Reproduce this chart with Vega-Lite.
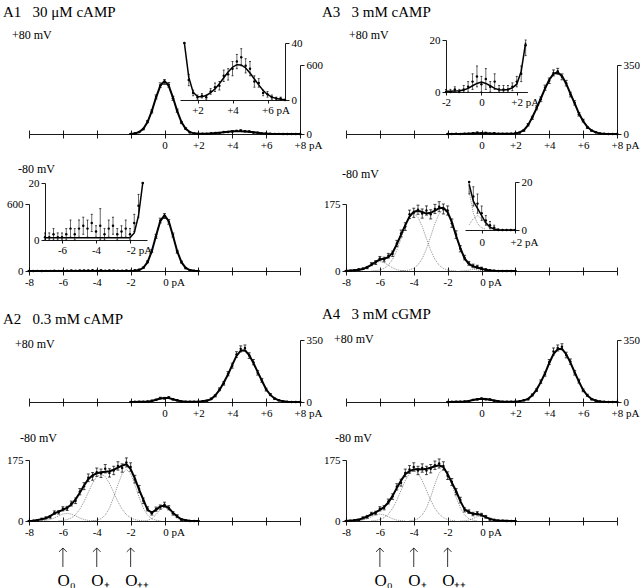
{
  "$schema": "https://vega.github.io/schema/vega-lite/v6.json",
  "padding": {"left": 3, "top": 5, "right": 4, "bottom": 4},
  "background": "white",
  "config": {
    "font": "Liberation Serif",
    "view": {"stroke": null},
    "axis": {
      "labelFont": "Liberation Serif", "labelFontSize": 11, "labelColor": "black",
      "domainColor": "black", "tickColor": "black", "domainWidth": 0.9, "tickWidth": 0.9,
      "grid": false, "labelFlush": false, "labelOverlap": false, "labelBound": false
    },
    "title": {
      "font": "Liberation Serif", "subtitleFont": "Liberation Serif", "fontWeight": "normal",
      "color": "black", "subtitleColor": "black", "anchor": "start", "frame": "group",
      "fontSize": 12, "subtitleFontSize": 12
    }
  },
  "datasets": {
    "a1t": [
      {"x": -2, "f": 1, "o": 1, "e": 1}, {"x": -1.75, "f": 5, "o": 6, "e": 2}, {"x": -1.5, "f": 16, "o": 18, "e": 4},
      {"x": -1.25, "f": 45, "o": 43, "e": 6}, {"x": -1, "f": 104, "o": 108, "e": 10}, {"x": -0.75, "f": 199, "o": 196, "e": 14},
      {"x": -0.5, "f": 317, "o": 322, "e": 18}, {"x": -0.25, "f": 419, "o": 425, "e": 20}, {"x": 0, "f": 460, "o": 452, "e": 21},
      {"x": 0.25, "f": 419, "o": 428, "e": 20}, {"x": 0.5, "f": 317, "o": 310, "e": 18}, {"x": 0.75, "f": 199, "o": 203, "e": 14},
      {"x": 1, "f": 104, "o": 100, "e": 10}, {"x": 1.25, "f": 45, "o": 47, "e": 7}, {"x": 1.5, "f": 16, "o": 14, "e": 4},
      {"x": 1.75, "f": 5.5, "o": 5, "e": 2}, {"x": 2, "f": 2.5, "o": 2, "e": 1.5}, {"x": 2.25, "f": 2.3, "o": 3, "e": 1.5},
      {"x": 2.5, "f": 3.2, "o": 2, "e": 1.5}, {"x": 2.75, "f": 5.1, "o": 6, "e": 2}, {"x": 3, "f": 7.8, "o": 9, "e": 3},
      {"x": 3.25, "f": 11.4, "o": 10, "e": 3}, {"x": 3.5, "f": 15.6, "o": 17, "e": 4}, {"x": 3.75, "f": 19.7, "o": 18, "e": 4},
      {"x": 4, "f": 23, "o": 22, "e": 5}, {"x": 4.25, "f": 24.8, "o": 27, "e": 5}, {"x": 4.5, "f": 24.6, "o": 30, "e": 6},
      {"x": 4.75, "f": 22.5, "o": 24, "e": 5}, {"x": 5, "f": 18.9, "o": 22, "e": 5}, {"x": 5.25, "f": 14.7, "o": 13, "e": 4},
      {"x": 5.5, "f": 10.6, "o": 12, "e": 3}, {"x": 5.75, "f": 6.7, "o": 5, "e": 2}, {"x": 6, "f": 3.9, "o": 4, "e": 2},
      {"x": 6.25, "f": 2, "o": 2, "e": 1.5}, {"x": 6.5, "f": 1, "o": 1, "e": 1}, {"x": 6.75, "f": 0.5, "o": 1, "e": 1},
      {"x": 7, "f": 0.2, "o": 0, "e": 0.5}, {"x": 7.25, "f": 0, "o": 0, "e": 0}, {"x": 7.5, "f": 0, "o": 0, "e": 0},
      {"x": 7.75, "f": 0, "o": 0, "e": 0}, {"x": 8, "f": 0, "o": 0, "e": 0}
    ],
    "a1b": [
      {"x": -8, "f": 0.8, "o": 0, "e": 1}, {"x": -7.75, "f": 0.8, "o": 0, "e": 1}, {"x": -7.5, "f": 0.8, "o": 1, "e": 1.5},
      {"x": -7.25, "f": 0.8, "o": 0, "e": 1}, {"x": -7, "f": 0.8, "o": 1, "e": 1.5}, {"x": -6.75, "f": 0.8, "o": 1, "e": 1.5},
      {"x": -6.5, "f": 0.8, "o": 2, "e": 2}, {"x": -6.25, "f": 0.8, "o": 1, "e": 1.5}, {"x": -6, "f": 0.8, "o": 1, "e": 1.5},
      {"x": -5.75, "f": 0.8, "o": 2, "e": 2}, {"x": -5.5, "f": 0.8, "o": 4, "e": 3}, {"x": -5.25, "f": 0.8, "o": 2, "e": 2},
      {"x": -5, "f": 0.8, "o": 4, "e": 3}, {"x": -4.75, "f": 0.8, "o": 5, "e": 3}, {"x": -4.5, "f": 0.8, "o": 4, "e": 3},
      {"x": -4.25, "f": 0.8, "o": 6, "e": 3}, {"x": -4, "f": 0.8, "o": 3, "e": 2}, {"x": -3.75, "f": 0.8, "o": 5, "e": 6},
      {"x": -3.5, "f": 0.8, "o": 2, "e": 2}, {"x": -3.25, "f": 0.8, "o": 4, "e": 3}, {"x": -3, "f": 0.8, "o": 5, "e": 3},
      {"x": -2.75, "f": 0.8, "o": 2, "e": 2}, {"x": -2.5, "f": 0.8, "o": 3, "e": 2}, {"x": -2.25, "f": 0.8, "o": 4, "e": 3},
      {"x": -2, "f": 0.8, "o": 2, "e": 2}, {"x": -1.75, "f": 2.5, "o": 6, "e": 3}, {"x": -1.5, "f": 8.5, "o": 12, "e": 4},
      {"x": -1.25, "f": 28.5, "o": 30, "e": 6}, {"x": -1, "f": 79, "o": 82, "e": 9}, {"x": -0.75, "f": 177, "o": 180, "e": 13},
      {"x": -0.5, "f": 315, "o": 310, "e": 18}, {"x": -0.25, "f": 446, "o": 452, "e": 21}, {"x": 0, "f": 500, "o": 492, "e": 22},
      {"x": 0.25, "f": 446, "o": 440, "e": 21}, {"x": 0.5, "f": 315, "o": 322, "e": 18}, {"x": 0.75, "f": 177, "o": 172, "e": 13},
      {"x": 1, "f": 79, "o": 80, "e": 9}, {"x": 1.25, "f": 28, "o": 26, "e": 6}, {"x": 1.5, "f": 8, "o": 8, "e": 3},
      {"x": 1.75, "f": 2, "o": 2, "e": 2}, {"x": 2, "f": 0.3, "o": 0, "e": 1}
    ],
    "a3t": [
      {"x": -2, "f": 0.3, "o": 0, "e": 1}, {"x": -1.75, "f": 0.3, "o": 0, "e": 1}, {"x": -1.5, "f": 0.4, "o": 1, "e": 1},
      {"x": -1.25, "f": 0.5, "o": 0, "e": 1}, {"x": -1, "f": 0.8, "o": 1, "e": 1.5}, {"x": -0.75, "f": 1.4, "o": 2, "e": 2},
      {"x": -0.5, "f": 2.4, "o": 4, "e": 3}, {"x": -0.25, "f": 3.3, "o": 6, "e": 4}, {"x": 0, "f": 3.8, "o": 3, "e": 3},
      {"x": 0.25, "f": 3.3, "o": 5, "e": 4}, {"x": 0.5, "f": 2.4, "o": 2, "e": 2}, {"x": 0.75, "f": 1.4, "o": 4, "e": 3},
      {"x": 1, "f": 0.9, "o": 1, "e": 1.5}, {"x": 1.25, "f": 0.8, "o": 1, "e": 1.5}, {"x": 1.5, "f": 1, "o": 1, "e": 1.5},
      {"x": 1.75, "f": 1.6, "o": 2, "e": 1.5}, {"x": 2, "f": 3, "o": 4, "e": 2}, {"x": 2.25, "f": 8, "o": 7, "e": 3},
      {"x": 2.5, "f": 19, "o": 18, "e": 4}, {"x": 2.75, "f": 45, "o": 47, "e": 6}, {"x": 3, "f": 85, "o": 82, "e": 8},
      {"x": 3.25, "f": 130, "o": 133, "e": 10}, {"x": 3.5, "f": 180, "o": 176, "e": 12}, {"x": 3.75, "f": 230, "o": 235, "e": 13},
      {"x": 4, "f": 275, "o": 270, "e": 14}, {"x": 4.25, "f": 305, "o": 310, "e": 15}, {"x": 4.5, "f": 312, "o": 318, "e": 15},
      {"x": 4.75, "f": 295, "o": 290, "e": 15}, {"x": 5, "f": 255, "o": 258, "e": 14}, {"x": 5.25, "f": 205, "o": 200, "e": 12},
      {"x": 5.5, "f": 155, "o": 158, "e": 11}, {"x": 5.75, "f": 105, "o": 100, "e": 9}, {"x": 6, "f": 65, "o": 68, "e": 7},
      {"x": 6.25, "f": 36, "o": 33, "e": 5}, {"x": 6.5, "f": 18, "o": 17, "e": 3}, {"x": 6.75, "f": 8, "o": 9, "e": 2},
      {"x": 7, "f": 3, "o": 3, "e": 1.5}, {"x": 7.25, "f": 1, "o": 1, "e": 1}, {"x": 7.5, "f": 0.5, "o": 0, "e": 0.5},
      {"x": 7.75, "f": 0.2, "o": 0, "e": 0}, {"x": 8, "f": 0, "o": 0, "e": 0}
    ],
    "a3b": [
      {"x": -8, "f": 0.5, "o": 0, "e": 1}, {"x": -7.75, "f": 1, "o": 1, "e": 1},
      {"x": -7.5, "f": 2, "o": 2, "e": 1.5, "c0": 0.3}, {"x": -7.25, "f": 3, "o": 4, "e": 2, "c0": 1.1},
      {"x": -7, "f": 5, "o": 6, "e": 2, "c0": 3.4}, {"x": -6.75, "f": 10, "o": 9, "e": 3, "c0": 8.1},
      {"x": -6.5, "f": 16, "o": 18, "e": 4, "c0": 15.2, "cp": 0.3}, {"x": -6.25, "f": 24, "o": 22, "e": 5, "c0": 22, "cp": 0.9},
      {"x": -6, "f": 30, "o": 33, "e": 5, "c0": 25, "cp": 2.5}, {"x": -5.75, "f": 32, "o": 30, "e": 6, "c0": 22, "cp": 6.6},
      {"x": -5.5, "f": 36, "o": 40, "e": 6, "c0": 15.2, "cp": 15.1}, {"x": -5.25, "f": 48, "o": 45, "e": 7, "c0": 8.1, "cp": 30.5},
      {"x": -5, "f": 70, "o": 72, "e": 8, "c0": 3.4, "cp": 54}, {"x": -4.75, "f": 95, "o": 98, "e": 9, "c0": 1.1, "cp": 84.5, "cpp": 0.3},
      {"x": -4.5, "f": 120, "o": 116, "e": 10, "c0": 0.3, "cp": 116, "cpp": 0.9}, {"x": -4.25, "f": 142, "o": 148, "e": 11, "cp": 140.7, "cpp": 2.7},
      {"x": -4, "f": 155, "o": 152, "e": 12, "cp": 150, "cpp": 7}, {"x": -3.75, "f": 157, "o": 160, "e": 12, "cp": 140.7, "cpp": 16.1},
      {"x": -3.5, "f": 154, "o": 150, "e": 12, "cp": 116, "cpp": 32.5}, {"x": -3.25, "f": 150, "o": 158, "e": 12, "cp": 84.5, "cpp": 57.6},
      {"x": -3, "f": 152, "o": 148, "e": 12, "cp": 54, "cpp": 90}, {"x": -2.75, "f": 158, "o": 162, "e": 12, "cp": 30.5, "cpp": 124},
      {"x": -2.5, "f": 164, "o": 168, "e": 13, "cp": 15.1, "cpp": 150}, {"x": -2.25, "f": 165, "o": 162, "e": 13, "cp": 6.6, "cpp": 160},
      {"x": -2, "f": 154, "o": 158, "e": 12, "cp": 2.5, "cpp": 150}, {"x": -1.75, "f": 128, "o": 125, "e": 11, "cp": 0.9, "cpp": 124},
      {"x": -1.5, "f": 92, "o": 95, "e": 10, "cp": 0.3, "cpp": 90}, {"x": -1.25, "f": 60, "o": 58, "e": 8, "cpp": 57.6, "cc": 0.1},
      {"x": -1, "f": 33, "o": 35, "e": 6, "cpp": 32.5, "cc": 0.6}, {"x": -0.75, "f": 19, "o": 20, "e": 5, "cpp": 16.1, "cc": 2.2},
      {"x": -0.5, "f": 12, "o": 14, "e": 4, "cpp": 7, "cc": 4.7}, {"x": -0.25, "f": 9, "o": 11, "e": 4, "cpp": 2.7, "cc": 6},
      {"x": 0, "f": 6, "o": 7, "e": 3, "cpp": 0.9, "cc": 4.7}, {"x": 0.25, "f": 3, "o": 4, "e": 2, "cpp": 0.3, "cc": 2.2},
      {"x": 0.5, "f": 1.2, "o": 2, "e": 1.5, "cc": 0.6}, {"x": 0.75, "f": 0.4, "o": 1, "e": 1, "cc": 0.1},
      {"x": 1, "f": 0.1, "o": 0, "e": 0.5}, {"x": 1.25, "f": 0, "o": 0, "e": 0}, {"x": 1.5, "f": 0, "o": 0, "e": 0},
      {"x": 1.75, "f": 0, "o": 0, "e": 0}, {"x": 2, "f": 0, "o": 0, "e": 0}
    ],
    "a2t": [
      {"x": -2, "f": 0.5, "o": 0, "e": 1}, {"x": -1.75, "f": 0.5, "o": 1, "e": 1}, {"x": -1.5, "f": 0.8, "o": 1, "e": 1},
      {"x": -1.25, "f": 1.2, "o": 1, "e": 1.5}, {"x": -1, "f": 2, "o": 3, "e": 2}, {"x": -0.75, "f": 6, "o": 7, "e": 3},
      {"x": -0.5, "f": 13, "o": 12, "e": 4}, {"x": -0.25, "f": 20, "o": 22, "e": 5}, {"x": 0, "f": 23, "o": 21, "e": 5},
      {"x": 0.25, "f": 22, "o": 25, "e": 5}, {"x": 0.5, "f": 16, "o": 15, "e": 4}, {"x": 0.75, "f": 9, "o": 10, "e": 3},
      {"x": 1, "f": 4, "o": 3, "e": 2}, {"x": 1.25, "f": 2, "o": 2, "e": 1.5}, {"x": 1.5, "f": 1, "o": 1, "e": 1},
      {"x": 1.75, "f": 1, "o": 2, "e": 1}, {"x": 2, "f": 2, "o": 2, "e": 1.5}, {"x": 2.25, "f": 4, "o": 5, "e": 2},
      {"x": 2.5, "f": 8, "o": 7, "e": 3}, {"x": 2.75, "f": 15, "o": 18, "e": 4}, {"x": 3, "f": 38, "o": 35, "e": 6},
      {"x": 3.25, "f": 68, "o": 72, "e": 8}, {"x": 3.5, "f": 110, "o": 105, "e": 10}, {"x": 3.75, "f": 155, "o": 160, "e": 12},
      {"x": 4, "f": 210, "o": 205, "e": 14}, {"x": 4.25, "f": 260, "o": 268, "e": 16}, {"x": 4.5, "f": 290, "o": 300, "e": 17},
      {"x": 4.75, "f": 292, "o": 305, "e": 17}, {"x": 5, "f": 265, "o": 262, "e": 16}, {"x": 5.25, "f": 220, "o": 225, "e": 15},
      {"x": 5.5, "f": 170, "o": 165, "e": 13}, {"x": 5.75, "f": 120, "o": 122, "e": 11}, {"x": 6, "f": 72, "o": 70, "e": 8},
      {"x": 6.25, "f": 40, "o": 42, "e": 6}, {"x": 6.5, "f": 20, "o": 19, "e": 4}, {"x": 6.75, "f": 9, "o": 10, "e": 3},
      {"x": 7, "f": 4, "o": 4, "e": 2}, {"x": 7.25, "f": 1.5, "o": 1, "e": 1}, {"x": 7.5, "f": 0.5, "o": 0, "e": 1},
      {"x": 7.75, "f": 0.2, "o": 0, "e": 0}, {"x": 8, "f": 0, "o": 0, "e": 0}
    ],
    "a2b": [
      {"x": -8, "f": 0, "o": 0, "e": 1}, {"x": -7.75, "f": 1, "o": 1, "e": 1}, {"x": -7.5, "f": 3, "o": 2, "e": 2},
      {"x": -7.25, "f": 5, "o": 6, "e": 2, "c0": 0.5}, {"x": -7, "f": 8, "o": 9, "e": 3, "c0": 1.7},
      {"x": -6.75, "f": 14, "o": 12, "e": 4, "c0": 4.2}, {"x": -6.5, "f": 22, "o": 24, "e": 5, "c0": 8.7},
      {"x": -6.25, "f": 27, "o": 25, "e": 5, "c0": 14.6, "cp": 0.5}, {"x": -6, "f": 32, "o": 35, "e": 6, "c0": 19.8, "cp": 1.5},
      {"x": -5.75, "f": 38, "o": 36, "e": 6, "c0": 22, "cp": 3.9}, {"x": -5.5, "f": 47, "o": 50, "e": 7, "c0": 19.8, "cp": 8.9},
      {"x": -5.25, "f": 62, "o": 58, "e": 8, "c0": 14.6, "cp": 18.2}, {"x": -5, "f": 81, "o": 84, "e": 9, "c0": 8.7, "cp": 33.6},
      {"x": -4.75, "f": 102, "o": 100, "e": 10, "c0": 4.2, "cp": 55.5}, {"x": -4.5, "f": 120, "o": 124, "e": 11, "c0": 1.7, "cp": 81.9},
      {"x": -4.25, "f": 131, "o": 128, "e": 11, "c0": 0.5, "cp": 108, "cpp": 0.6}, {"x": -4, "f": 137, "o": 140, "e": 12, "c0": 0.1, "cp": 127.7, "cpp": 2.1},
      {"x": -3.75, "f": 140, "o": 137, "e": 12, "cp": 135, "cpp": 6.5}, {"x": -3.5, "f": 141, "o": 150, "e": 12, "cp": 127.7, "cpp": 16.9},
      {"x": -3.25, "f": 143, "o": 138, "e": 12, "cp": 108, "cpp": 36.9}, {"x": -3, "f": 147, "o": 145, "e": 12, "cp": 81.9, "cpp": 67.8},
      {"x": -2.75, "f": 153, "o": 158, "e": 12, "cp": 55.5, "cpp": 104.6}, {"x": -2.5, "f": 159, "o": 152, "e": 12, "cp": 33.6, "cpp": 135.7},
      {"x": -2.25, "f": 163, "o": 168, "e": 13, "cp": 18.2, "cpp": 148}, {"x": -2, "f": 149, "o": 155, "e": 12, "cp": 8.9, "cpp": 135.7},
      {"x": -1.75, "f": 122, "o": 120, "e": 11, "cp": 3.9, "cpp": 104.6}, {"x": -1.5, "f": 90, "o": 92, "e": 10, "cp": 1.5, "cpp": 67.8},
      {"x": -1.25, "f": 61, "o": 58, "e": 8, "cp": 0.5, "cpp": 36.9, "cc": 0.3}, {"x": -1, "f": 32, "o": 35, "e": 6, "cpp": 16.9, "cc": 1.8},
      {"x": -0.75, "f": 24, "o": 22, "e": 5, "cpp": 6.5, "cc": 6.9}, {"x": -0.5, "f": 32, "o": 34, "e": 6, "cpp": 2.1, "cc": 18.3},
      {"x": -0.25, "f": 42, "o": 40, "e": 6, "cpp": 0.6, "cc": 32.9}, {"x": 0, "f": 44, "o": 47, "e": 7, "cc": 40},
      {"x": 0.25, "f": 37, "o": 38, "e": 6, "cc": 32.9}, {"x": 0.5, "f": 24, "o": 22, "e": 5, "cc": 18.3},
      {"x": 0.75, "f": 13, "o": 14, "e": 4, "cc": 6.9}, {"x": 1, "f": 5, "o": 4, "e": 2, "cc": 1.8},
      {"x": 1.25, "f": 2, "o": 2, "e": 1.5, "cc": 0.3}, {"x": 1.5, "f": 0.5, "o": 0, "e": 1},
      {"x": 1.75, "f": 0.2, "o": 0, "e": 0}, {"x": 2, "f": 0, "o": 0, "e": 0}
    ],
    "a4t": [
      {"x": -2, "f": 0.5, "o": 0, "e": 1}, {"x": -1.75, "f": 0.5, "o": 1, "e": 1}, {"x": -1.5, "f": 0.8, "o": 1, "e": 1},
      {"x": -1.25, "f": 1.5, "o": 2, "e": 1.5}, {"x": -1, "f": 3, "o": 3, "e": 2}, {"x": -0.75, "f": 6, "o": 5, "e": 3},
      {"x": -0.5, "f": 11, "o": 12, "e": 3}, {"x": -0.25, "f": 16, "o": 15, "e": 4}, {"x": 0, "f": 18, "o": 19, "e": 4},
      {"x": 0.25, "f": 17, "o": 16, "e": 4}, {"x": 0.5, "f": 13, "o": 14, "e": 4}, {"x": 0.75, "f": 8, "o": 7, "e": 3},
      {"x": 1, "f": 4, "o": 4, "e": 2}, {"x": 1.25, "f": 2, "o": 2, "e": 1.5}, {"x": 1.5, "f": 1, "o": 1, "e": 1},
      {"x": 1.75, "f": 1, "o": 1, "e": 1}, {"x": 2, "f": 2, "o": 2, "e": 1.5}, {"x": 2.25, "f": 4, "o": 4, "e": 2},
      {"x": 2.5, "f": 9, "o": 10, "e": 3}, {"x": 2.75, "f": 18, "o": 16, "e": 4}, {"x": 3, "f": 38, "o": 40, "e": 6},
      {"x": 3.25, "f": 70, "o": 67, "e": 8}, {"x": 3.5, "f": 112, "o": 115, "e": 10}, {"x": 3.75, "f": 162, "o": 158, "e": 12},
      {"x": 4, "f": 220, "o": 226, "e": 14}, {"x": 4.25, "f": 270, "o": 285, "e": 20}, {"x": 4.5, "f": 298, "o": 305, "e": 17},
      {"x": 4.75, "f": 300, "o": 312, "e": 17}, {"x": 5, "f": 270, "o": 265, "e": 16}, {"x": 5.25, "f": 222, "o": 228, "e": 15},
      {"x": 5.5, "f": 168, "o": 165, "e": 13}, {"x": 5.75, "f": 115, "o": 118, "e": 11}, {"x": 6, "f": 68, "o": 66, "e": 8},
      {"x": 6.25, "f": 36, "o": 38, "e": 6}, {"x": 6.5, "f": 17, "o": 16, "e": 4}, {"x": 6.75, "f": 7, "o": 8, "e": 3},
      {"x": 7, "f": 3, "o": 3, "e": 2}, {"x": 7.25, "f": 1, "o": 1, "e": 1}, {"x": 7.5, "f": 0.5, "o": 0, "e": 1},
      {"x": 7.75, "f": 0.2, "o": 0, "e": 0}, {"x": 8, "f": 0, "o": 0, "e": 0}
    ],
    "a4b": [
      {"x": -8, "f": 0.5, "o": 0, "e": 1}, {"x": -7.75, "f": 1, "o": 1, "e": 1},
      {"x": -7.5, "f": 2, "o": 2, "e": 1.5, "c0": 0.2}, {"x": -7.25, "f": 4, "o": 3, "e": 2, "c0": 0.9},
      {"x": -7, "f": 8, "o": 9, "e": 3, "c0": 2.7}, {"x": -6.75, "f": 13, "o": 12, "e": 4, "c0": 6.5},
      {"x": -6.5, "f": 19, "o": 21, "e": 4, "c0": 12.1, "cp": 0.6}, {"x": -6.25, "f": 25, "o": 23, "e": 5, "c0": 17.6, "cp": 1.6},
      {"x": -6, "f": 32, "o": 35, "e": 6, "c0": 20, "cp": 4.1}, {"x": -5.75, "f": 40, "o": 38, "e": 6, "c0": 17.6, "cp": 9.5},
      {"x": -5.5, "f": 53, "o": 56, "e": 7, "c0": 12.1, "cp": 19.6}, {"x": -5.25, "f": 72, "o": 70, "e": 8, "c0": 6.5, "cp": 36.1},
      {"x": -5, "f": 95, "o": 98, "e": 9, "c0": 2.7, "cp": 59.6}, {"x": -4.75, "f": 116, "o": 110, "e": 10, "c0": 0.9, "cp": 88},
      {"x": -4.5, "f": 134, "o": 138, "e": 11, "c0": 0.2, "cp": 116}, {"x": -4.25, "f": 143, "o": 148, "e": 11, "cp": 137, "cpp": 0.6},
      {"x": -4, "f": 148, "o": 155, "e": 12, "cp": 145, "cpp": 2.1}, {"x": -3.75, "f": 149, "o": 145, "e": 12, "cp": 137, "cpp": 6.6},
      {"x": -3.5, "f": 148, "o": 152, "e": 12, "cp": 116, "cpp": 17.1}, {"x": -3.25, "f": 150, "o": 145, "e": 12, "cp": 88, "cpp": 37.4},
      {"x": -3, "f": 153, "o": 150, "e": 12, "cp": 59.6, "cpp": 68.7}, {"x": -2.75, "f": 157, "o": 160, "e": 12, "cp": 36.1, "cpp": 106},
      {"x": -2.5, "f": 160, "o": 165, "e": 13, "cp": 19.6, "cpp": 137.6}, {"x": -2.25, "f": 155, "o": 158, "e": 12, "cp": 9.5, "cpp": 150},
      {"x": -2, "f": 134, "o": 130, "e": 11, "cp": 4.1, "cpp": 137.6}, {"x": -1.75, "f": 110, "o": 112, "e": 10, "cp": 1.6, "cpp": 106},
      {"x": -1.5, "f": 86, "o": 84, "e": 9, "cp": 0.6, "cpp": 68.7}, {"x": -1.25, "f": 57, "o": 60, "e": 8, "cpp": 37.4, "cc": 0.1},
      {"x": -1, "f": 34, "o": 32, "e": 6, "cpp": 17.1, "cc": 0.7}, {"x": -0.75, "f": 25, "o": 27, "e": 5, "cpp": 6.6, "cc": 2.6},
      {"x": -0.5, "f": 21, "o": 20, "e": 5, "cpp": 2.1, "cc": 6.9}, {"x": -0.25, "f": 20, "o": 22, "e": 5, "cpp": 0.6, "cc": 12.3},
      {"x": 0, "f": 17, "o": 18, "e": 4, "cc": 15}, {"x": 0.25, "f": 11, "o": 12, "e": 4, "cc": 12.3},
      {"x": 0.5, "f": 6, "o": 5, "e": 3, "cc": 6.9}, {"x": 0.75, "f": 3, "o": 3, "e": 2, "cc": 2.6},
      {"x": 1, "f": 1.5, "o": 1, "e": 1.5, "cc": 0.7}, {"x": 1.25, "f": 0.8, "o": 1, "e": 1, "cc": 0.1},
      {"x": 1.5, "f": 0.4, "o": 0, "e": 1}, {"x": 1.75, "f": 0.2, "o": 0, "e": 0}, {"x": 2, "f": 0, "o": 0, "e": 0}
    ],
    "arrows": [{"x": -6}, {"x": -4}, {"x": -2}]
  },
  "columns": 2,
  "align": "each",
  "bounds": "flush",
  "spacing": {"row": 27, "column": 46},
  "concat": [
    {
      "width": 271, "height": 69,
      "title": {"text": "A1\u00a0\u00a0\u00a030 μM cAMP", "subtitle": "\u200b\u00a0\u00a0\u00a0+80 mV", "dx": -26, "fontSize": 15, "subtitlePadding": 10, "offset": -4},
      "resolve": {"scale": {"x": "independent", "y": "independent"}},
      "layer": [
        {
          "data": {"name": "a1t"},
          "resolve": {"axis": {"x": "independent", "y": "independent"}},
          "layer": [
            {"mark": {"type": "line", "color": "black", "strokeWidth": 2},
             "encoding": {
               "x": {"field": "x", "type": "quantitative", "scale": {"domain": [-8, 8], "nice": false, "zero": false},
                     "axis": {"orient": "bottom", "title": null, "values": [-8, -6, -4, -2, 0, 2, 4, 6, 8], "tickSize": 4, "labelPadding": 1,
                              "labelExpr": "datum.value < 0 ? '' : datum.value == 0 ? '0' : datum.value == 8 ? '+8 pA' : '+' + datum.value",
                              "labelOffset": {"condition": {"test": "datum.value == 8", "value": 8}, "value": 0}}},
               "y": {"field": "f", "type": "quantitative", "scale": {"domain": [0, 600], "nice": false},
                     "axis": {"orient": "right", "title": null, "values": [0, 600], "tickSize": 4, "labelPadding": 2}}}},
            {"mark": {"type": "errorbar", "color": "black", "ticks": {"size": 3}, "rule": {"strokeWidth": 0.7}},
             "encoding": {
               "x": {"field": "x", "type": "quantitative", "scale": {"domain": [-8, 8], "nice": false, "zero": false},
                     "axis": {"orient": "bottom", "title": null, "values": [-8, -6, -4, -2, 0, 2, 4, 6, 8], "tickSize": -4, "labels": false, "domain": false}},
               "y": {"field": "o", "type": "quantitative", "scale": {"domain": [0, 600], "nice": false}, "axis": null},
               "yError": {"field": "e"}}},
            {"mark": {"type": "point", "filled": true, "size": 6, "color": "black", "opacity": 1},
             "encoding": {
               "x": {"field": "x", "type": "quantitative", "scale": {"domain": [-8, 8], "nice": false, "zero": false}, "axis": null},
               "y": {"field": "o", "type": "quantitative", "scale": {"domain": [0, 600], "nice": false}, "axis": null}}}
          ]
        },
        {
          "data": {"name": "a1t"},
          "transform": [{"filter": "datum.x >= 1.25 && datum.x <= 7"}],
          "resolve": {"axis": {"x": "independent", "y": "independent"}},
          "layer": [
            {"mark": {"type": "line", "color": "black", "strokeWidth": 1.5},
             "encoding": {
               "x": {"field": "x", "type": "quantitative", "scale": {"domain": [1, 7], "range": [151, 256], "nice": false, "zero": false},
                     "axis": {"orient": "bottom", "offset": -34, "title": null, "values": [2, 4, 6], "tickSize": 3, "labelPadding": 1,
                              "labelExpr": "'+' + datum.value + (datum.value == 6 ? ' pA' : '')",
                              "labelOffset": {"condition": {"test": "datum.value == 6", "value": 8}, "value": 0}}},
               "y": {"field": "f", "type": "quantitative", "scale": {"domain": [0, 40], "range": [35, -22], "nice": false, "clamp": true},
                     "axis": {"orient": "right", "offset": -15, "title": null, "values": [0, 40], "tickSize": 4, "labelPadding": 2}}}},
            {"mark": {"type": "errorbar", "color": "black", "ticks": {"size": 2}, "rule": {"strokeWidth": 0.6}},
             "encoding": {
               "x": {"field": "x", "type": "quantitative", "scale": {"domain": [1, 7], "range": [151, 256], "nice": false, "zero": false}, "axis": null},
               "y": {"field": "o", "type": "quantitative", "scale": {"domain": [0, 40], "range": [35, -22], "nice": false, "clamp": true}, "axis": null},
               "yError": {"field": "e"}}},
            {"mark": {"type": "point", "filled": true, "size": 6, "color": "black", "opacity": 1},
             "encoding": {
               "x": {"field": "x", "type": "quantitative", "scale": {"domain": [1, 7], "range": [151, 256], "nice": false, "zero": false}, "axis": null},
               "y": {"field": "o", "type": "quantitative", "scale": {"domain": [0, 40], "range": [35, -22], "nice": false, "clamp": true}, "axis": null}}}
          ]
        }
      ]
    },
    {
      "width": 271, "height": 69,
      "title": {"text": "A3\u00a0\u00a0\u00a03 mM cAMP", "subtitle": "\u200b\u00a0\u00a0\u00a0\u00a0\u00a0\u00a0\u00a0\u00a0\u00a0+80 mV", "dx": -24, "fontSize": 15, "subtitlePadding": 10, "offset": -7},
      "resolve": {"scale": {"x": "independent", "y": "independent"}},
      "layer": [
        {
          "data": {"name": "a3t"},
          "resolve": {"axis": {"x": "independent", "y": "independent"}},
          "layer": [
            {"mark": {"type": "line", "color": "black", "strokeWidth": 2},
             "encoding": {
               "x": {"field": "x", "type": "quantitative", "scale": {"domain": [-8, 8], "nice": false, "zero": false},
                     "axis": {"orient": "bottom", "title": null, "values": [-8, -6, -4, -2, 0, 2, 4, 6, 8], "tickSize": 4, "labelPadding": 1,
                              "labelExpr": "datum.value < 0 ? '' : datum.value == 0 ? '0' : datum.value == 8 ? '+8 pA' : '+' + datum.value",
                              "labelOffset": {"condition": {"test": "datum.value == 8", "value": 8}, "value": 0}}},
               "y": {"field": "f", "type": "quantitative", "scale": {"domain": [0, 350], "nice": false},
                     "axis": {"orient": "right", "title": null, "values": [0, 350], "tickSize": 4, "labelPadding": 2}}}},
            {"mark": {"type": "errorbar", "color": "black", "ticks": {"size": 3}, "rule": {"strokeWidth": 0.7}},
             "encoding": {
               "x": {"field": "x", "type": "quantitative", "scale": {"domain": [-8, 8], "nice": false, "zero": false},
                     "axis": {"orient": "bottom", "title": null, "values": [-8, -6, -4, -2, 0, 2, 4, 6, 8], "tickSize": -4, "labels": false, "domain": false}},
               "y": {"field": "o", "type": "quantitative", "scale": {"domain": [0, 350], "nice": false}, "axis": null},
               "yError": {"field": "e"}}},
            {"mark": {"type": "point", "filled": true, "size": 6, "color": "black", "opacity": 1},
             "encoding": {
               "x": {"field": "x", "type": "quantitative", "scale": {"domain": [-8, 8], "nice": false, "zero": false}, "axis": null},
               "y": {"field": "o", "type": "quantitative", "scale": {"domain": [0, 350], "nice": false}, "axis": null}}}
          ]
        },
        {
          "data": {"name": "a3t"},
          "transform": [{"filter": "datum.x >= -2 && datum.x <= 2.5"}],
          "resolve": {"axis": {"x": "independent", "y": "independent"}},
          "layer": [
            {"mark": {"type": "line", "color": "black", "strokeWidth": 1.5},
             "encoding": {
               "x": {"field": "x", "type": "quantitative", "scale": {"domain": [-2, 2.6], "range": [100, 181.4], "nice": false, "zero": false},
                     "axis": {"orient": "bottom", "offset": -42, "title": null, "values": [-2, 0, 2], "tickSize": 3, "labelPadding": 1,
                              "labelExpr": "datum.value > 0 ? '+2 pA' : '' + datum.value",
                              "labelOffset": {"condition": {"test": "datum.value == 2", "value": 8}, "value": 0}}},
               "y": {"field": "f", "type": "quantitative", "scale": {"domain": [0, 20], "range": [27, -25], "nice": false, "clamp": true},
                     "axis": {"orient": "left", "offset": -100, "title": null, "values": [0, 20], "tickSize": 4, "labelPadding": 2}}}},
            {"mark": {"type": "errorbar", "color": "black", "ticks": {"size": 2}, "rule": {"strokeWidth": 0.6}},
             "encoding": {
               "x": {"field": "x", "type": "quantitative", "scale": {"domain": [-2, 2.6], "range": [100, 181.4], "nice": false, "zero": false}, "axis": null},
               "y": {"field": "o", "type": "quantitative", "scale": {"domain": [0, 20], "range": [27, -25], "nice": false, "clamp": true}, "axis": null},
               "yError": {"field": "e"}}},
            {"mark": {"type": "point", "filled": true, "size": 6, "color": "black", "opacity": 1},
             "encoding": {
               "x": {"field": "x", "type": "quantitative", "scale": {"domain": [-2, 2.6], "range": [100, 181.4], "nice": false, "zero": false}, "axis": null},
               "y": {"field": "o", "type": "quantitative", "scale": {"domain": [0, 20], "range": [27, -25], "nice": false, "clamp": true}, "axis": null}}}
          ]
        }
      ]
    },
    {
      "width": 271, "height": 110,
      "title": {"text": "-80 mV", "dx": -11, "offset": -15},
      "resolve": {"scale": {"x": "independent", "y": "independent"}},
      "layer": [
        {
          "data": {"name": "a1b"},
          "resolve": {"axis": {"x": "independent", "y": "independent"}},
          "layer": [
            {"mark": {"type": "line", "color": "black", "strokeWidth": 2},
             "encoding": {
               "x": {"field": "x", "type": "quantitative", "scale": {"domain": [-8, 8], "nice": false, "zero": false},
                     "axis": {"orient": "bottom", "title": null, "values": [-8, -6, -4, -2, 0, 2, 4, 6, 8], "tickSize": 4, "labelPadding": 1,
                              "labelExpr": "datum.value > 0 ? '' : datum.value == 0 ? '0 pA' : '' + datum.value",
                              "labelOffset": {"condition": {"test": "datum.value == 0", "value": 9}, "value": 0}}},
               "y": {"field": "f", "type": "quantitative", "scale": {"domain": [0, 600], "range": [110, 43], "nice": false},
                     "axis": {"orient": "left", "title": null, "values": [0, 600], "tickSize": 4, "labelPadding": 2}}}},
            {"mark": {"type": "errorbar", "color": "black", "ticks": {"size": 3}, "rule": {"strokeWidth": 0.7}},
             "encoding": {
               "x": {"field": "x", "type": "quantitative", "scale": {"domain": [-8, 8], "nice": false, "zero": false},
                     "axis": {"orient": "bottom", "title": null, "values": [-8, -6, -4, -2, 0, 2, 4, 6, 8], "tickSize": -4, "labels": false, "domain": false}},
               "y": {"field": "o", "type": "quantitative", "scale": {"domain": [0, 600], "range": [110, 43], "nice": false}, "axis": null},
               "yError": {"field": "e"}}},
            {"mark": {"type": "point", "filled": true, "size": 6, "color": "black", "opacity": 1},
             "encoding": {
               "x": {"field": "x", "type": "quantitative", "scale": {"domain": [-8, 8], "nice": false, "zero": false}, "axis": null},
               "y": {"field": "o", "type": "quantitative", "scale": {"domain": [0, 600], "range": [110, 43], "nice": false}, "axis": null}}}
          ]
        },
        {
          "data": {"name": "a1b"},
          "transform": [{"filter": "datum.x >= -7 && datum.x <= -1.25"}],
          "resolve": {"axis": {"x": "independent", "y": "independent"}},
          "layer": [
            {"mark": {"type": "line", "color": "black", "strokeWidth": 1.5},
             "encoding": {
               "x": {"field": "x", "type": "quantitative", "scale": {"domain": [-7, -1], "range": [16, 118], "nice": false, "zero": false},
                     "axis": {"orient": "bottom", "offset": -31, "title": null, "values": [-6, -4, -2], "tickSize": 3, "labelPadding": 1,
                              "labelExpr": "datum.value + (datum.value == -2 ? ' pA' : '')",
                              "labelOffset": {"condition": {"test": "datum.value == -2", "value": 9}, "value": 0}}},
               "y": {"field": "f", "type": "quantitative", "scale": {"domain": [0, 20], "range": [79, 22], "nice": false, "clamp": true},
                     "axis": {"orient": "left", "offset": -16, "title": null, "values": [0, 20], "tickSize": 4, "labelPadding": 2}}}},
            {"mark": {"type": "errorbar", "color": "black", "ticks": {"size": 2}, "rule": {"strokeWidth": 0.6}},
             "encoding": {
               "x": {"field": "x", "type": "quantitative", "scale": {"domain": [-7, -1], "range": [16, 118], "nice": false, "zero": false}, "axis": null},
               "y": {"field": "o", "type": "quantitative", "scale": {"domain": [0, 20], "range": [79, 22], "nice": false, "clamp": true}, "axis": null},
               "yError": {"field": "e"}}},
            {"mark": {"type": "point", "filled": true, "size": 6, "color": "black", "opacity": 1},
             "encoding": {
               "x": {"field": "x", "type": "quantitative", "scale": {"domain": [-7, -1], "range": [16, 118], "nice": false, "zero": false}, "axis": null},
               "y": {"field": "o", "type": "quantitative", "scale": {"domain": [0, 20], "range": [79, 22], "nice": false, "clamp": true}, "axis": null}}}
          ]
        }
      ]
    },
    {
      "width": 271, "height": 110,
      "title": {"text": "-80 mV", "dx": -4, "offset": -20},
      "resolve": {"scale": {"x": "independent", "y": "independent"}},
      "layer": [
        {
          "data": {"name": "a3b"},
          "resolve": {"axis": {"x": "independent", "y": "independent"}},
          "layer": [
            {"transform": [{"fold": ["c0", "cp", "cpp", "cc"], "as": ["comp", "v"]}],
             "mark": {"type": "line", "color": "#444444", "strokeWidth": 0.6, "strokeDash": [1, 1]},
             "encoding": {
               "x": {"field": "x", "type": "quantitative", "scale": {"domain": [-8, 8], "nice": false, "zero": false}, "axis": null},
               "y": {"field": "v", "type": "quantitative", "scale": {"domain": [0, 175], "range": [110, 43], "nice": false}, "axis": null},
               "detail": {"field": "comp"}}},
            {"mark": {"type": "line", "color": "black", "strokeWidth": 2},
             "encoding": {
               "x": {"field": "x", "type": "quantitative", "scale": {"domain": [-8, 8], "nice": false, "zero": false},
                     "axis": {"orient": "bottom", "title": null, "values": [-8, -6, -4, -2, 0, 2, 4, 6, 8], "tickSize": 4, "labelPadding": 1,
                              "labelExpr": "datum.value > 0 ? '' : datum.value == 0 ? '0 pA' : '' + datum.value",
                              "labelOffset": {"condition": {"test": "datum.value == 0", "value": 9}, "value": 0}}},
               "y": {"field": "f", "type": "quantitative", "scale": {"domain": [0, 175], "range": [110, 43], "nice": false},
                     "axis": {"orient": "left", "title": null, "values": [0, 175], "tickSize": 4, "labelPadding": 2}}}},
            {"mark": {"type": "errorbar", "color": "black", "ticks": {"size": 3}, "rule": {"strokeWidth": 0.7}},
             "encoding": {
               "x": {"field": "x", "type": "quantitative", "scale": {"domain": [-8, 8], "nice": false, "zero": false},
                     "axis": {"orient": "bottom", "title": null, "values": [-8, -6, -4, -2, 0, 2, 4, 6, 8], "tickSize": -4, "labels": false, "domain": false}},
               "y": {"field": "o", "type": "quantitative", "scale": {"domain": [0, 175], "range": [110, 43], "nice": false}, "axis": null},
               "yError": {"field": "e"}}},
            {"mark": {"type": "point", "filled": true, "size": 6, "color": "black", "opacity": 1},
             "encoding": {
               "x": {"field": "x", "type": "quantitative", "scale": {"domain": [-8, 8], "nice": false, "zero": false}, "axis": null},
               "y": {"field": "o", "type": "quantitative", "scale": {"domain": [0, 175], "range": [110, 43], "nice": false}, "axis": null}}}
          ]
        },
        {
          "data": {"name": "a3b"},
          "transform": [{"filter": "datum.x >= -0.75 && datum.x <= 2"}],
          "resolve": {"axis": {"x": "independent", "y": "independent"}},
          "layer": [
            {"transform": [{"fold": ["cpp", "cc"], "as": ["comp", "v"]}],
             "mark": {"type": "line", "color": "#444444", "strokeWidth": 0.6, "strokeDash": [1, 1]},
             "encoding": {
               "x": {"field": "x", "type": "quantitative", "scale": {"domain": [-1, 2], "range": [119, 169], "nice": false, "zero": false}, "axis": null},
               "y": {"field": "v", "type": "quantitative", "scale": {"domain": [0, 20], "range": [69, 21], "nice": false, "clamp": true}, "axis": null},
               "detail": {"field": "comp"}}},
            {"mark": {"type": "line", "color": "black", "strokeWidth": 1.5},
             "encoding": {
               "x": {"field": "x", "type": "quantitative", "scale": {"domain": [-1, 2], "range": [119, 169], "nice": false, "zero": false},
                     "axis": {"orient": "bottom", "offset": -41, "title": null, "values": [0, 2], "tickSize": 3, "labelPadding": 3,
                              "labelExpr": "datum.value > 0 ? '+2 pA' : '0'",
                              "labelOffset": {"condition": {"test": "datum.value == 2", "value": 9}, "value": 0}}},
               "y": {"field": "f", "type": "quantitative", "scale": {"domain": [0, 20], "range": [69, 21], "nice": false, "clamp": true},
                     "axis": {"orient": "right", "offset": -102, "title": null, "values": [0, 20], "tickSize": 4, "labelPadding": 2}}}},
            {"mark": {"type": "errorbar", "color": "black", "ticks": {"size": 2}, "rule": {"strokeWidth": 0.6}},
             "encoding": {
               "x": {"field": "x", "type": "quantitative", "scale": {"domain": [-1, 2], "range": [119, 169], "nice": false, "zero": false}, "axis": null},
               "y": {"field": "o", "type": "quantitative", "scale": {"domain": [0, 20], "range": [69, 21], "nice": false, "clamp": true}, "axis": null},
               "yError": {"field": "e"}}},
            {"mark": {"type": "point", "filled": true, "size": 6, "color": "black", "opacity": 1},
             "encoding": {
               "x": {"field": "x", "type": "quantitative", "scale": {"domain": [-1, 2], "range": [119, 169], "nice": false, "zero": false}, "axis": null},
               "y": {"field": "o", "type": "quantitative", "scale": {"domain": [0, 20], "range": [69, 21], "nice": false, "clamp": true}, "axis": null}}}
          ]
        }
      ]
    },
    {
      "width": 271, "height": 104,
      "title": {"text": "A2\u00a0\u00a0\u00a00.3 mM cAMP", "subtitle": "\u200b\u00a0\u00a0\u00a0\u00a0+80 mV", "dx": -26, "fontSize": 15, "subtitlePadding": 12, "offset": -52},
      "data": {"name": "a2t"},
      "resolve": {"axis": {"x": "independent", "y": "independent"}},
      "layer": [
        {"mark": {"type": "line", "color": "black", "strokeWidth": 2},
         "encoding": {
           "x": {"field": "x", "type": "quantitative", "scale": {"domain": [-8, 8], "nice": false, "zero": false},
                 "axis": {"orient": "bottom", "title": null, "values": [-8, -6, -4, -2, 0, 2, 4, 6, 8], "tickSize": 4, "labelPadding": 1,
                          "labelExpr": "datum.value < 0 ? '' : datum.value == 0 ? '0' : datum.value == 8 ? '+8 pA' : '+' + datum.value",
                          "labelOffset": {"condition": {"test": "datum.value == 8", "value": 8}, "value": 0}}},
           "y": {"field": "f", "type": "quantitative", "scale": {"domain": [0, 350], "range": [104, 42], "nice": false},
                 "axis": {"orient": "right", "title": null, "values": [0, 350], "tickSize": 4, "labelPadding": 2}}}},
        {"mark": {"type": "errorbar", "color": "black", "ticks": {"size": 3}, "rule": {"strokeWidth": 0.7}},
         "encoding": {
           "x": {"field": "x", "type": "quantitative", "scale": {"domain": [-8, 8], "nice": false, "zero": false},
                 "axis": {"orient": "bottom", "title": null, "values": [-8, -6, -4, -2, 0, 2, 4, 6, 8], "tickSize": -4, "labels": false, "domain": false}},
           "y": {"field": "o", "type": "quantitative", "scale": {"domain": [0, 350], "range": [104, 42], "nice": false}, "axis": null},
           "yError": {"field": "e"}}},
        {"mark": {"type": "point", "filled": true, "size": 6, "color": "black", "opacity": 1},
         "encoding": {
           "x": {"field": "x", "type": "quantitative", "scale": {"domain": [-8, 8], "nice": false, "zero": false}, "axis": null},
           "y": {"field": "o", "type": "quantitative", "scale": {"domain": [0, 350], "range": [104, 42], "nice": false}, "axis": null}}}
      ]
    },
    {
      "width": 271, "height": 104,
      "title": {"text": "A4\u00a0\u00a0\u00a03 mM cGMP", "subtitle": "\u200b\u00a0\u00a0\u00a0\u00a0+80 mV", "dx": -24, "fontSize": 15, "subtitlePadding": 12, "offset": -47},
      "data": {"name": "a4t"},
      "resolve": {"axis": {"x": "independent", "y": "independent"}},
      "layer": [
        {"mark": {"type": "line", "color": "black", "strokeWidth": 2},
         "encoding": {
           "x": {"field": "x", "type": "quantitative", "scale": {"domain": [-8, 8], "nice": false, "zero": false},
                 "axis": {"orient": "bottom", "title": null, "values": [-8, -6, -4, -2, 0, 2, 4, 6, 8], "tickSize": 4, "labelPadding": 1,
                          "labelExpr": "datum.value < 0 ? '' : datum.value == 0 ? '0' : datum.value == 8 ? '+8 pA' : '+' + datum.value",
                          "labelOffset": {"condition": {"test": "datum.value == 8", "value": 8}, "value": 0}}},
           "y": {"field": "f", "type": "quantitative", "scale": {"domain": [0, 350], "range": [104, 42], "nice": false},
                 "axis": {"orient": "right", "title": null, "values": [0, 350], "tickSize": 4, "labelPadding": 2}}}},
        {"mark": {"type": "errorbar", "color": "black", "ticks": {"size": 3}, "rule": {"strokeWidth": 0.7}},
         "encoding": {
           "x": {"field": "x", "type": "quantitative", "scale": {"domain": [-8, 8], "nice": false, "zero": false},
                 "axis": {"orient": "bottom", "title": null, "values": [-8, -6, -4, -2, 0, 2, 4, 6, 8], "tickSize": -4, "labels": false, "domain": false}},
           "y": {"field": "o", "type": "quantitative", "scale": {"domain": [0, 350], "range": [104, 42], "nice": false}, "axis": null},
           "yError": {"field": "e"}}},
        {"mark": {"type": "point", "filled": true, "size": 6, "color": "black", "opacity": 1},
         "encoding": {
           "x": {"field": "x", "type": "quantitative", "scale": {"domain": [-8, 8], "nice": false, "zero": false}, "axis": null},
           "y": {"field": "o", "type": "quantitative", "scale": {"domain": [0, 350], "range": [104, 42], "nice": false}, "axis": null}}}
      ]
    },
    {
      "width": 271, "height": 92,
      "title": {"text": "-80 mV", "dx": -9, "offset": -16},
      "data": {"name": "a2b"},
      "resolve": {"axis": {"x": "independent", "y": "independent"}},
      "layer": [
        {"transform": [{"fold": ["c0", "cp", "cpp", "cc"], "as": ["comp", "v"]}],
         "mark": {"type": "line", "color": "#444444", "strokeWidth": 0.6, "strokeDash": [1, 1]},
         "encoding": {
           "x": {"field": "x", "type": "quantitative", "scale": {"domain": [-8, 8], "nice": false, "zero": false}, "axis": null},
           "y": {"field": "v", "type": "quantitative", "scale": {"domain": [0, 175], "range": [92, 31], "nice": false}, "axis": null},
           "detail": {"field": "comp"}}},
        {"mark": {"type": "line", "color": "black", "strokeWidth": 2},
         "encoding": {
           "x": {"field": "x", "type": "quantitative", "scale": {"domain": [-8, 8], "nice": false, "zero": false},
                 "axis": {"orient": "bottom", "title": null, "values": [-8, -6, -4, -2, 0, 2, 4, 6, 8], "tickSize": 4, "labelPadding": 1,
                          "labelExpr": "datum.value > 0 ? '' : datum.value == 0 ? '0 pA' : '' + datum.value",
                          "labelOffset": {"condition": {"test": "datum.value == 0", "value": 9}, "value": 0}}},
           "y": {"field": "f", "type": "quantitative", "scale": {"domain": [0, 175], "range": [92, 31], "nice": false},
                 "axis": {"orient": "left", "title": null, "values": [0, 175], "tickSize": 4, "labelPadding": 2}}}},
        {"mark": {"type": "errorbar", "color": "black", "ticks": {"size": 3}, "rule": {"strokeWidth": 0.7}},
         "encoding": {
           "x": {"field": "x", "type": "quantitative", "scale": {"domain": [-8, 8], "nice": false, "zero": false},
                 "axis": {"orient": "bottom", "title": null, "values": [-8, -6, -4, -2, 0, 2, 4, 6, 8], "tickSize": -4, "labels": false, "domain": false}},
           "y": {"field": "o", "type": "quantitative", "scale": {"domain": [0, 175], "range": [92, 31], "nice": false}, "axis": null},
           "yError": {"field": "e"}}},
        {"mark": {"type": "point", "filled": true, "size": 6, "color": "black", "opacity": 1},
         "encoding": {
           "x": {"field": "x", "type": "quantitative", "scale": {"domain": [-8, 8], "nice": false, "zero": false}, "axis": null},
           "y": {"field": "o", "type": "quantitative", "scale": {"domain": [0, 175], "range": [92, 31], "nice": false}, "axis": null}}}
      ]
    },
    {
      "width": 271, "height": 92,
      "title": {"text": "-80 mV", "dx": -11, "offset": -16},
      "data": {"name": "a4b"},
      "resolve": {"axis": {"x": "independent", "y": "independent"}},
      "layer": [
        {"transform": [{"fold": ["c0", "cp", "cpp", "cc"], "as": ["comp", "v"]}],
         "mark": {"type": "line", "color": "#444444", "strokeWidth": 0.6, "strokeDash": [1, 1]},
         "encoding": {
           "x": {"field": "x", "type": "quantitative", "scale": {"domain": [-8, 8], "nice": false, "zero": false}, "axis": null},
           "y": {"field": "v", "type": "quantitative", "scale": {"domain": [0, 175], "range": [92, 31], "nice": false}, "axis": null},
           "detail": {"field": "comp"}}},
        {"mark": {"type": "line", "color": "black", "strokeWidth": 2},
         "encoding": {
           "x": {"field": "x", "type": "quantitative", "scale": {"domain": [-8, 8], "nice": false, "zero": false},
                 "axis": {"orient": "bottom", "title": null, "values": [-8, -6, -4, -2, 0, 2, 4, 6, 8], "tickSize": 4, "labelPadding": 1,
                          "labelExpr": "datum.value > 0 ? '' : datum.value == 0 ? '0 pA' : '' + datum.value",
                          "labelOffset": {"condition": {"test": "datum.value == 0", "value": 9}, "value": 0}}},
           "y": {"field": "f", "type": "quantitative", "scale": {"domain": [0, 175], "range": [92, 31], "nice": false},
                 "axis": {"orient": "left", "title": null, "values": [0, 175], "tickSize": 4, "labelPadding": 2}}}},
        {"mark": {"type": "errorbar", "color": "black", "ticks": {"size": 3}, "rule": {"strokeWidth": 0.7}},
         "encoding": {
           "x": {"field": "x", "type": "quantitative", "scale": {"domain": [-8, 8], "nice": false, "zero": false},
                 "axis": {"orient": "bottom", "title": null, "values": [-8, -6, -4, -2, 0, 2, 4, 6, 8], "tickSize": -4, "labels": false, "domain": false}},
           "y": {"field": "o", "type": "quantitative", "scale": {"domain": [0, 175], "range": [92, 31], "nice": false}, "axis": null},
           "yError": {"field": "e"}}},
        {"mark": {"type": "point", "filled": true, "size": 6, "color": "black", "opacity": 1},
         "encoding": {
           "x": {"field": "x", "type": "quantitative", "scale": {"domain": [-8, 8], "nice": false, "zero": false}, "axis": null},
           "y": {"field": "o", "type": "quantitative", "scale": {"domain": [0, 175], "range": [92, 31], "nice": false}, "axis": null}}}
      ]
    },
    {
      "width": 271, "height": 19,
      "data": {"name": "arrows"},
      "resolve": {"axis": {"x": "independent"}},
      "layer": [
        {"mark": {"type": "rule", "color": "black", "strokeWidth": 0.8},
         "encoding": {
           "x": {"field": "x", "type": "quantitative", "scale": {"domain": [-8, 8], "nice": false, "zero": false},
                 "axis": {"orient": "bottom", "title": null, "values": [-6, -4, -2], "domain": false, "ticks": false, "labelPadding": 5,
                          "labelFontSize": 17, "labelAlign": "left", "labelOffset": -6,
                          "labelExpr": "datum.value == -6 ? 'O₀' : datum.value == -4 ? 'O₊' : 'O₊₊'"}},
           "y": {"datum": 0, "type": "quantitative", "scale": {"domain": [0, 1]}, "axis": null},
           "y2": {"datum": 1}}},
        {"mark": {"type": "point", "shape": "M-1,1L0,0L1,1", "size": 60, "filled": false, "color": "black", "strokeWidth": 0.8, "opacity": 1},
         "encoding": {
           "x": {"field": "x", "type": "quantitative", "scale": {"domain": [-8, 8], "nice": false, "zero": false}, "axis": null},
           "y": {"datum": 1, "type": "quantitative", "scale": {"domain": [0, 1]}, "axis": null}}}
      ]
    },
    {
      "width": 271, "height": 19,
      "data": {"name": "arrows"},
      "resolve": {"axis": {"x": "independent"}},
      "layer": [
        {"mark": {"type": "rule", "color": "black", "strokeWidth": 0.8},
         "encoding": {
           "x": {"field": "x", "type": "quantitative", "scale": {"domain": [-8, 8], "nice": false, "zero": false},
                 "axis": {"orient": "bottom", "title": null, "values": [-6, -4, -2], "domain": false, "ticks": false, "labelPadding": 5,
                          "labelFontSize": 17, "labelAlign": "left", "labelOffset": -6,
                          "labelExpr": "datum.value == -6 ? 'O₀' : datum.value == -4 ? 'O₊' : 'O₊₊'"}},
           "y": {"datum": 0, "type": "quantitative", "scale": {"domain": [0, 1]}, "axis": null},
           "y2": {"datum": 1}}},
        {"mark": {"type": "point", "shape": "M-1,1L0,0L1,1", "size": 60, "filled": false, "color": "black", "strokeWidth": 0.8, "opacity": 1},
         "encoding": {
           "x": {"field": "x", "type": "quantitative", "scale": {"domain": [-8, 8], "nice": false, "zero": false}, "axis": null},
           "y": {"datum": 1, "type": "quantitative", "scale": {"domain": [0, 1]}, "axis": null}}}
      ]
    }
  ]
}
